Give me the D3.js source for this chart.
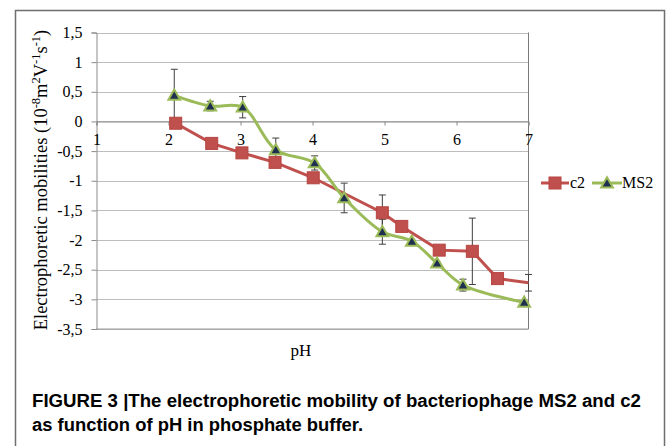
<!DOCTYPE html>
<html lang="en">
  <head>
    <meta charset="UTF-8" />
    <title>Electrophoretic mobility</title>
    <style>
      body {
        margin: 0;
        background: #fff;
      }
      svg text {
        font-family: "Liberation Serif", "Times New Roman", serif;
        fill: #000;
      }
      .grid line {
        stroke: #bdbdbd;
        stroke-width: 1;
      }
      .caption {
        font-family: "Liberation Sans Narrow", "Arial Narrow", "Liberation Sans", Arial, sans-serif;
        font-weight: bold;
        font-size: 18px;
      }
    </style>
  </head>
  <body>
    <svg width="670" height="446"></svg>

    <script src="https://cdn.jsdelivr.net/npm/d3@7"></script>
    <script>
      // values
      const c2X = [2.1, 2.6, 3.02, 3.48, 4.01, 4.97, 5.24, 5.76, 6.22, 6.57, 7.0];
      const c2Y = [-0.03, -0.37, -0.53, -0.69, -0.95, -1.54, -1.77, -2.17, -2.19, -2.65, -2.72];
      const c2Err = [0, 0, 0, 0, 0, 0.3, 0, 0, 0.56, 0, 0.14];

      const ms2X = [2.08, 2.58, 3.03, 3.49, 4.03, 4.44, 4.97, 5.38, 5.73, 6.09, 6.94];
      const ms2Y = [0.44, 0.26, 0.24, -0.48, -0.7, -1.29, -1.86, -2.02, -2.39, -2.76, -3.05];
      const ms2Err = [0.44, 0.08, 0.18, 0.2, 0.12, 0.25, 0.21, 0.02, 0.02, 0.1, 0];

      const xTicks = [1, 2, 3, 4, 5, 6, 7];
      const yTicks = [1.5, 1, 0.5, 0, -0.5, -1, -1.5, -2, -2.5, -3, -3.5];

      const red = "#c0504d",
        green = "#9bbb59",
        navy = "#1f2f4f";

      const svg = d3.select("svg");

      // outer frame
      svg
        .append("rect")
        .attr("x", 15.5)
        .attr("y", 10.5)
        .attr("width", 649)
        .attr("height", 450)
        .attr("fill", "none")
        .attr("stroke", "#6e6e6e")
        .attr("stroke-width", 1.5);

      const pLeft = 96.5,
        pRight = 528.5,
        pTop = 32.5,
        pBottom = 329;

      const x = d3.scaleLinear().domain([1, 7]).range([pLeft, pRight]);
      const y = d3.scaleLinear().domain([-3.5, 1.5]).range([pBottom, pTop]);
      const fmt = (v) => String(v).replace(".", ",");

      // gridlines
      svg
        .append("g")
        .attr("class", "grid")
        .selectAll("line")
        .data(yTicks)
        .join("line")
        .attr("x1", pLeft)
        .attr("x2", pRight)
        .attr("y1", (d) => Math.round(y(d)) + 0.5)
        .attr("y2", (d) => Math.round(y(d)) + 0.5);

      // plot borders
      svg
        .append("line")
        .attr("x1", pRight)
        .attr("x2", pRight)
        .attr("y1", pTop)
        .attr("y2", pBottom)
        .attr("stroke", "#7a7a7a");
      svg
        .append("line")
        .attr("x1", pLeft)
        .attr("x2", pRight)
        .attr("y1", pBottom)
        .attr("y2", pBottom)
        .attr("stroke", "#9a9a9a");

      // y axis
      const yAxis = svg
        .append("g")
        .attr("transform", `translate(${pLeft},0)`)
        .call(
          d3.axisLeft(y).tickValues(yTicks).tickFormat(fmt).tickSize(5).tickPadding(9)
        );
      yAxis.select(".domain").attr("stroke", "#8a8a8a");
      yAxis.selectAll(".tick line").attr("stroke", "#8a8a8a");
      yAxis
        .selectAll(".tick text")
        .attr("font-size", 16)
        .attr("font-family", "Liberation Serif, serif");

      // x axis crossing at 0
      const xAxis = svg
        .append("g")
        .attr("transform", `translate(0,${Math.round(y(0)) + 0.5})`)
        .call(d3.axisBottom(x).tickValues(xTicks).tickFormat(d3.format("d")).tickSize(4).tickPadding(8));
      xAxis.select(".domain").attr("stroke", "#8a8a8a");
      xAxis.selectAll(".tick line").attr("stroke", "#8a8a8a");
      xAxis
        .selectAll(".tick text")
        .attr("font-size", 16)
        .attr("font-family", "Liberation Serif, serif");

      // axis titles
      svg
        .append("text")
        .attr("x", 301)
        .attr("y", 356)
        .attr("text-anchor", "middle")
        .attr("font-size", 17)
        .text("pH");

      const yTitle = svg
        .append("text")
        .attr("transform", "translate(47,180) rotate(-90)")
        .attr("text-anchor", "middle")
        .attr("font-size", 18.5);
      yTitle.append("tspan").text("Electrophoretic mobilities (10");
      yTitle.append("tspan").attr("dy", -7).attr("font-size", 12.5).text("-8");
      yTitle.append("tspan").attr("dy", 7).text("m");
      yTitle.append("tspan").attr("dy", -7).attr("font-size", 12.5).text("2");
      yTitle.append("tspan").attr("dy", 7).text("V");
      yTitle.append("tspan").attr("dy", -7).attr("font-size", 12.5).text("-1");
      yTitle.append("tspan").attr("dy", 7).text("s");
      yTitle.append("tspan").attr("dy", -7).attr("font-size", 12.5).text("-1");
      yTitle.append("tspan").attr("dy", 7).text(")");

      const c2 = c2X.map((v, i) => ({ x: v, y: c2Y[i], e: c2Err[i] }));
      const ms2 = ms2X.map((v, i) => ({ x: v, y: ms2Y[i], e: ms2Err[i] }));

      // error bars
      const bars = svg.append("g").attr("stroke", "#3f3f3f").attr("stroke-width", 1);
      [...c2, ...ms2]
        .filter((d) => d.e > 0)
        .forEach((d) => {
          const cx = x(d.x),
            y1 = y(d.y + d.e),
            y2 = y(d.y - d.e);
          bars.append("line").attr("x1", cx).attr("x2", cx).attr("y1", y1).attr("y2", y2);
          bars.append("line").attr("x1", cx - 3.5).attr("x2", cx + 3.5).attr("y1", y1).attr("y2", y1);
          bars.append("line").attr("x1", cx - 3.5).attr("x2", cx + 3.5).attr("y1", y2).attr("y2", y2);
        });

      // lines
      const lineC2 = d3.line().x((d) => x(d.x)).y((d) => y(d.y));
      const lineMs2 = d3
        .line()
        .x((d) => x(d.x))
        .y((d) => y(d.y))
        .curve(d3.curveCatmullRom.alpha(0.5));

      svg
        .append("path")
        .datum(c2)
        .attr("d", lineC2)
        .attr("fill", "none")
        .attr("stroke", red)
        .attr("stroke-width", 3);

      svg
        .append("path")
        .datum(ms2)
        .attr("d", lineMs2)
        .attr("fill", "none")
        .attr("stroke", green)
        .attr("stroke-width", 3);

      // markers
      const sq = 12;
      svg
        .append("g")
        .selectAll("rect")
        .data(c2.filter((d) => d.x < 7))
        .join("rect")
        .attr("x", (d) => x(d.x) - sq / 2)
        .attr("y", (d) => y(d.y) - sq / 2)
        .attr("width", sq)
        .attr("height", sq)
        .attr("fill", red)
        .attr("stroke", "#b64541")
        .attr("stroke-width", 1);

      const tri = d3.symbol().type(d3.symbolTriangle).size(60);
      svg
        .append("g")
        .selectAll("path")
        .data(ms2)
        .join("path")
        .attr("d", tri)
        .attr("transform", (d) => `translate(${x(d.x)},${y(d.y) + 1})`)
        .attr("fill", navy)
        .attr("stroke", green)
        .attr("stroke-width", 2);

      // legend
      const lg = svg.append("g").attr("transform", "translate(0,183)");
      lg.append("line").attr("x1", 541).attr("x2", 569).attr("stroke", red).attr("stroke-width", 3);
      lg.append("rect")
        .attr("x", 555 - sq / 2)
        .attr("y", -sq / 2)
        .attr("width", sq)
        .attr("height", sq)
        .attr("fill", red)
        .attr("stroke", "#b64541");
      lg.append("text").attr("x", 570).attr("y", 5).attr("font-size", 16).text("c2");
      lg.append("line").attr("x1", 592).attr("x2", 622).attr("stroke", green).attr("stroke-width", 3);
      lg.append("path")
        .attr("d", tri)
        .attr("transform", "translate(607,1)")
        .attr("fill", navy)
        .attr("stroke", green)
        .attr("stroke-width", 2);
      lg.append("text").attr("x", 622).attr("y", 5).attr("font-size", 16).text("MS2");

      // caption
      svg
        .append("text")
        .attr("class", "caption")
        .attr("x", 32)
        .attr("y", 407)
        .attr("textLength", 609)
        .attr("lengthAdjust", "spacingAndGlyphs")
        .text("FIGURE 3 |The electrophoretic mobility of bacteriophage MS2 and c2");
      svg
        .append("text")
        .attr("class", "caption")
        .attr("x", 32)
        .attr("y", 431)
        .attr("textLength", 331)
        .attr("lengthAdjust", "spacingAndGlyphs")
        .text("as function of pH in phosphate buffer.");
    </script>
  </body>
</html>
